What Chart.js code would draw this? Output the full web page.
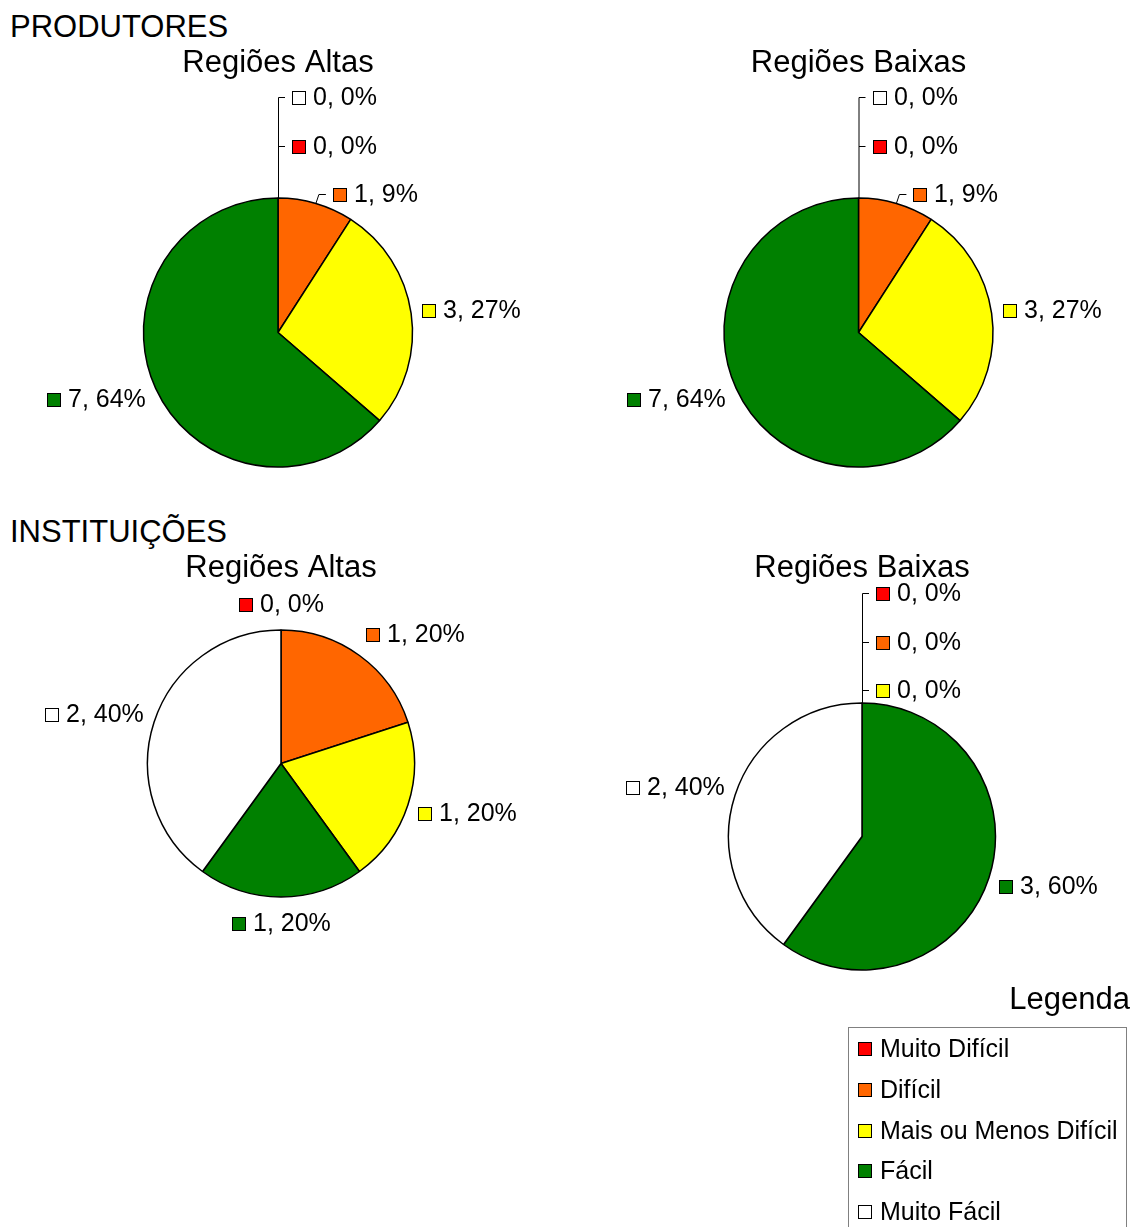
<!DOCTYPE html>
<html lang="pt">
<head>
<meta charset="utf-8">
<title>Produtores e Instituições</title>
<script src="https://cdn.jsdelivr.net/npm/chart.js@4/dist/chart.umd.min.js"></script>
<style>
    body { margin: 0; background: #fff; font-family: "Liberation Sans", Arial, sans-serif; color: #000; }
    #page { position: relative; width: 1136px; height: 1227px; overflow: hidden; }
    canvas { position: absolute; }
    .grupo { position: absolute; left: 10px; font-size: 31px; line-height: 31px; }
    #legendaTitulo { position: absolute; right: 6px; top: 983px; font-size: 31px; line-height: 31px; }
    #legenda { position: absolute; left: 848px; top: 1027px; width: 279px; height: 240px; box-sizing: border-box; border: 1px solid #808080; }
    .item { position: absolute; left: 31px; font-size: 25px; line-height: 25px; white-space: nowrap; }
    .quad { position: absolute; left: -22px; top: 6px; width: 14px; height: 14px; box-sizing: border-box; border: 1px solid #000; }
</style>
</head>
<body>
<div id="page">
    <div class="grupo" style="top:11px">PRODUTORES</div>
    <div class="grupo" style="top:516px">INSTITUIÇÕES</div>
    <canvas id="c1" width="568" height="490" style="left:0;top:0"></canvas>
    <canvas id="c2" width="568" height="490" style="left:568px;top:0"></canvas>
    <canvas id="c3" width="568" height="500" style="left:0;top:490px"></canvas>
    <canvas id="c4" width="568" height="500" style="left:568px;top:490px"></canvas>
    <div id="legendaTitulo">Legenda</div>
    <div id="legenda"></div>
</div>
<script>
// Dados
const categorias = ['Muito Difícil', 'Difícil', 'Mais ou Menos Difícil', 'Fácil', 'Muito Fácil'];
const cores = ['#FF0000', '#FF6600', '#FFFF00', '#008000', '#FFFFFF'];
const produtoresAltas = [0, 1, 3, 7, 0];
const produtoresBaixas = [0, 1, 3, 7, 0];
const instituicoesAltas = [0, 1, 1, 1, 2];
const instituicoesBaixas = [0, 0, 0, 3, 2];

const FONTE = '"Liberation Sans", Arial, sans-serif';
const BORDA = 1.5;
const Q = 14;       // lado do quadradinho
const H = 28;       // altura do rótulo
const PASSO = 48.5; // espaço entre rótulos empilhados

// Rótulos "valor, %" fora da pizza, com linhas de chamada
const rotulos = {
    id: 'rotulos',
    afterDatasetsDraw(chart) {
        const ctx = chart.ctx;
        const arcs = chart.getDatasetMeta(0).data;
        const valores = chart.data.datasets[0].data;
        const total = valores.reduce((a, b) => a + b, 0);
        const n = valores.length;
        const cx = arcs[0].x, cy = arcs[0].y, r = arcs[0].outerRadius;
        const topo = cy - r;

        ctx.save();
        ctx.font = '25px ' + FONTE;
        ctx.textBaseline = 'middle';
        ctx.strokeStyle = '#000';
        ctx.lineWidth = 1;

        const itens = arcs.map((arc, i) => {
            const texto = valores[i] + ', ' + Math.round(valores[i] / total * 100) + '%';
            const w = Q + 7 + ctx.measureText(texto).width;
            const mid = (arc.startAngle + arc.endAngle) / 2;
            const dx = Math.cos(mid), dy = Math.sin(mid);
            const ax = cx + (r + 11) * dx, ay = cy + (r + 12) * dy;
            const fx = Math.max(-1, Math.min(1, 2 * dx));
            return {i, texto, w, dx, dy, x: ax + fx * w / 2 - w / 2, y: ay + dy * H / 2, zero: valores[i] === 0};
        });

        // fatias zeradas: empilha acima do topo
        const zeros = itens.filter(it => it.zero);
        if (zeros.length > 1) {
            const primeiro = valores.findIndex(v => v > 0);
            zeros.sort((a, b) => ((primeiro - a.i + n) % n) - ((primeiro - b.i + n) % n));
            const viz = itens[primeiro];
            const larg = Math.max(...zeros.map(z => z.w));
            const bate = viz.x < cx + 14 + larg && viz.y + H / 2 > topo - 13 - H / 2;
            let base = topo - 13;
            if (bate) {
                // o vizinho pequeno sobe para a base da pilha, com chamada
                const px = cx + r * viz.dx, py = cy + r * viz.dy;
                viz.y = topo - 4;
                viz.x = px + 17;
                ctx.beginPath();
                ctx.moveTo(px, py);
                ctx.lineTo(px + 3, viz.y + 0.5);
                ctx.lineTo(viz.x - 7, viz.y + 0.5);
                ctx.stroke();
                base = viz.y - PASSO;
            }
            zeros.forEach((z, k) => {
                z.x = cx + 14;
                z.y = base - k * PASSO;
            });
            ctx.beginPath();
            ctx.moveTo(cx + 0.5, topo);
            ctx.lineTo(cx + 0.5, Math.round(zeros[zeros.length - 1].y) + 0.5);
            zeros.forEach(z => {
                ctx.moveTo(cx + 0.5, Math.round(z.y) + 0.5);
                ctx.lineTo(cx + 7, Math.round(z.y) + 0.5);
            });
            ctx.stroke();
        }

        itens.forEach(it => {
            const x = Math.round(it.x), y = Math.round(it.y);
            ctx.fillStyle = cores[it.i];
            ctx.fillRect(x, y - 6, Q, Q);
            ctx.strokeRect(x + 0.5, y - 5.5, Q - 1, Q - 1);
            ctx.fillStyle = '#000';
            ctx.fillText(it.texto, x + Q + 7, y + 1);
        });
        ctx.restore();
    }
};

// Painéis: centro, raio e posição do título em coordenadas da página
const paineis = [
    {id: 'c1', titulo: 'Regiões Altas', dados: produtoresAltas, left: 0, top: 0, cx: 278, cy: 332.5, r: 134.5, ty: 63},
    {id: 'c2', titulo: 'Regiões Baixas', dados: produtoresBaixas, left: 568, top: 0, cx: 858.5, cy: 332.5, r: 134.5, ty: 63},
    {id: 'c3', titulo: 'Regiões Altas', dados: instituicoesAltas, left: 0, top: 490, cx: 281, cy: 763.5, r: 133.5, ty: 568},
    {id: 'c4', titulo: 'Regiões Baixas', dados: instituicoesBaixas, left: 568, top: 490, cx: 862, cy: 836.5, r: 133.5, ty: 568}
];

paineis.forEach(p => {
    const el = document.getElementById(p.id);
    const s = 2 * p.r + BORDA;
    const lx = p.cx - p.left, ly = p.cy - p.top;
    const pt = (p.ty - p.top) - 18.6;
    new Chart(el, {
        type: 'pie',
        data: {
            labels: categorias,
            datasets: [{
                data: p.dados,
                backgroundColor: cores,
                borderColor: '#000',
                borderWidth: BORDA
            }]
        },
        options: {
            responsive: false,
            animation: false,
            events: [],
            layout: {
                padding: {
                    left: lx - s / 2,
                    right: el.width - (lx + s / 2),
                    top: pt,
                    bottom: el.height - (ly + s / 2)
                }
            },
            plugins: {
                legend: {display: false},
                tooltip: {enabled: false},
                title: {
                    display: true,
                    text: p.titulo,
                    color: '#000',
                    font: {family: FONTE, size: 31, weight: 'normal', lineHeight: 1.2},
                    padding: {top: 0, bottom: (ly - s / 2) - pt - 37.2}
                }
            }
        },
        plugins: [rotulos]
    });
});

// Legenda
const legenda = document.getElementById('legenda');
categorias.forEach((c, i) => {
    const item = document.createElement('div');
    item.className = 'item';
    item.style.top = (8 + i * 40.75) + 'px';
    item.innerHTML = '<span class="quad" style="background:' + cores[i] + '"></span>' + c;
    legenda.appendChild(item);
});
</script>
</body>
</html>
